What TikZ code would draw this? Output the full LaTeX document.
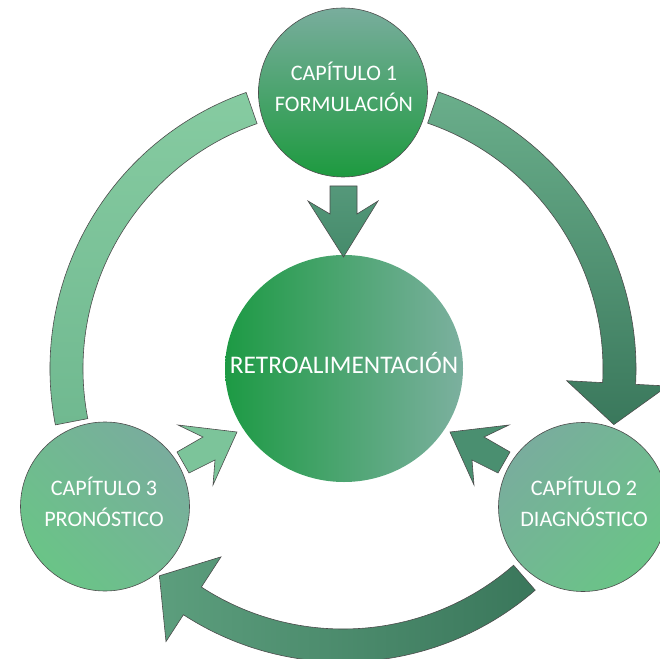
\documentclass[tikz,border=0pt]{standalone}
\usepackage{fontspec}
\setmainfont{Carlito}
\usetikzlibrary{shapes.geometric}
\definecolor{bandTa}{HTML}{6AAE8B}
\definecolor{bandTb}{HTML}{3A785C}
\definecolor{bandLa}{HTML}{86CBA1}
\definecolor{bandLb}{HTML}{70B990}
\definecolor{bandBa}{HTML}{5C9E7D}
\definecolor{bandBb}{HTML}{3A775B}
\definecolor{fbL}{HTML}{1D9A44}
\definecolor{fbR}{HTML}{7CB09F}
\definecolor{capGray}{HTML}{79AD9D}
\definecolor{capGreen}{HTML}{1D9A3F}
\definecolor{capLight}{HTML}{6AC487}
\definecolor{arrDa}{HTML}{55987A}
\definecolor{arrDb}{HTML}{458B6B}
\definecolor{arrL}{HTML}{7CC49A}
\definecolor{arrR}{HTML}{4A8F70}
\begin{document}
\begin{tikzpicture}[x=0.75pt,y=0.75pt,
  outl/.style={draw=black!70, line width=0.45pt},
  capc/.style={circle, outl, minimum size=126.75pt, inner sep=0pt, outer sep=0pt},
  captxt/.style={text=white, align=center, inner sep=0pt, font=\fontsize{16.6}{23.25}\selectfont},
]
\useasboundingbox (0,0) rectangle (660,658);

% ring bands around centre (343,289)
\begin{scope}[shift={(343,289)}]
  % top-right arrow: Capitulo 1 -> Capitulo 2
  \path[outl, top color=bandTa, bottom color=bandTb]
    (71:293) arc[start angle=71, end angle=-3, radius=219.75pt]
    -- (-3:325) -- (-11.6:276.5) -- (-3:224) -- (-3:260)
    arc[start angle=-3, end angle=71, radius=195pt] -- cycle;
  % bottom arrow: Capitulo 2 -> Capitulo 3
  \path[outl, left color=bandBa, right color=bandBb]
    (-49:293) arc[start angle=-49, end angle=-123, radius=219.75pt]
    -- (-123:325) -- (-131.6:276.5) -- (-123:224) -- (-123:260)
    arc[start angle=-123, end angle=-49, radius=195pt] -- cycle;
  % left band: Capitulo 3 -> Capitulo 1
  \path[outl, top color=bandLa, bottom color=bandLb]
    (191:293) arc[start angle=191, end angle=109.3, radius=219.75pt]
    -- (109.3:260)
    arc[start angle=109.3, end angle=191, radius=195pt] -- cycle;
\end{scope}

% centre
\node[ellipse, minimum width=178.5pt, minimum height=170.25pt, inner sep=0pt,
      left color=fbL, right color=fbR, draw=none] (fb) at (344,289.5) {};
\node[text=white, inner sep=0pt, anchor=base, font=\fontsize{19}{23}\selectfont]
      (fbt) at (344,285) {RETROALIMENTACIÓN};

% small straight arrows
\path[outl, top color=arrDa, bottom color=arrDb]
  (330,472) -- (357,472) -- (357,444) -- (378,457) -- (343.5,401)
  -- (308,457) -- (330,444) -- cycle;
\path[outl, fill=arrL]
  (177,206) -- (203,221) -- (178,233) -- (237,226) -- (213,173)
  -- (215,198) -- (189,185) -- cycle;
\path[outl, fill=arrR]
  (510,206) -- (484,221) -- (509,233) -- (450,226) -- (474,173)
  -- (472,198) -- (498,185) -- cycle;

% chapter circles
\node[capc, top color=capGray, bottom color=capGreen] (c1) at (343,565.5) {};
\node[capc, top color=capGray, bottom color=capLight, shading angle=45] (c2) at (583,151) {};
\node[capc, top color=capGray, bottom color=capLight, shading angle=-45] (c3) at (105,151.5) {};

\node[captxt] (t1) at (344,571.4) {CAPÍTULO 1\\FORMULACIÓN};
\node[captxt] (t2) at (584,156) {CAPÍTULO 2\\DIAGNÓSTICO};
\node[captxt] (t3) at (104,156) {CAPÍTULO 3\\PRONÓSTICO};
\end{tikzpicture}
\end{document}
